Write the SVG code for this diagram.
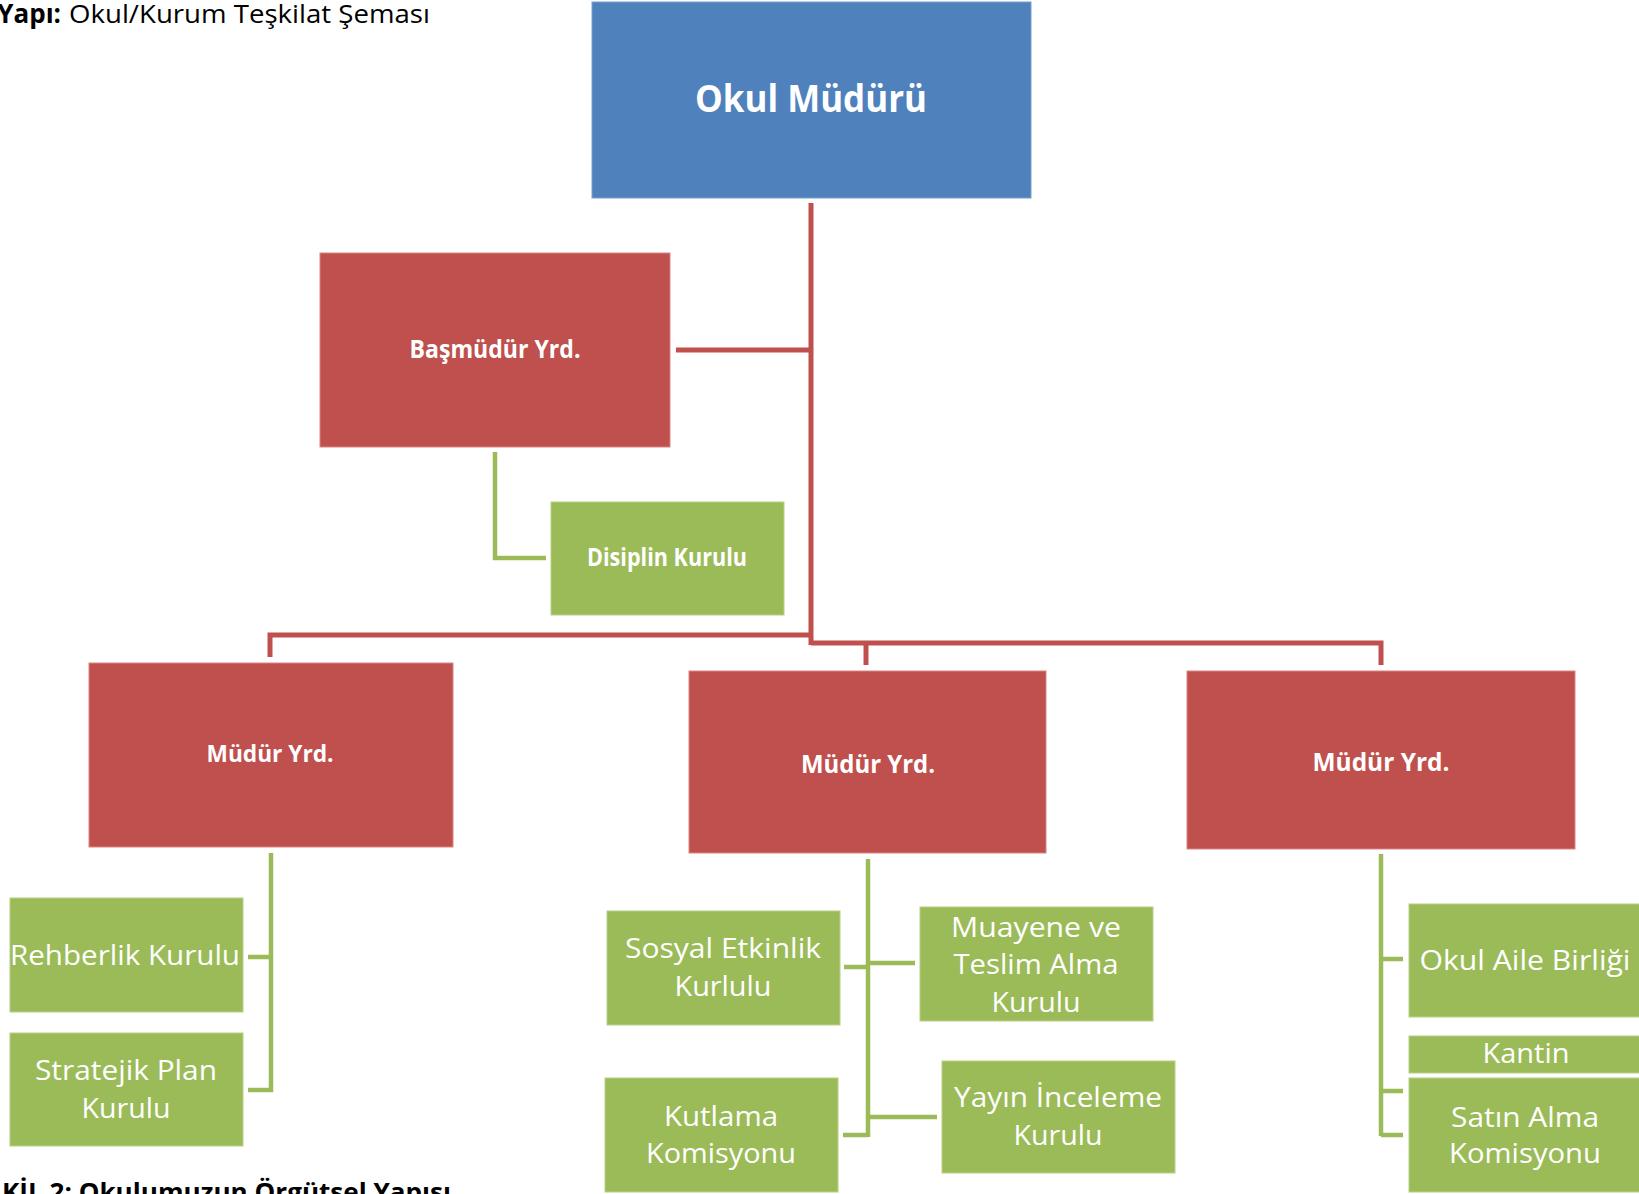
<svg xmlns="http://www.w3.org/2000/svg" width="1639" height="1194" viewBox="0 0 1639 1194">
<style>
text{font-family:"Open Sans","Noto Sans",sans-serif;}
.blue{fill:#4F81BD;stroke:#7A9FCC;stroke-width:1;}
.red{fill:#C0504D;stroke:#D98583;stroke-width:1;}
.green{fill:#9BBB59;stroke:#B8D084;stroke-width:1;}
.lbl{fill:#FFFFFF;text-anchor:middle;}
.b{font-weight:bold;}
.reg{font-size:28px;}
.rl{fill:none;stroke:#C0504D;stroke-width:5;stroke-linejoin:miter;}
.gl{fill:none;stroke:#9BBB59;stroke-width:4.5;stroke-linejoin:miter;}
.cap{fill:#000000;}
</style>
<rect x="0" y="0" width="1639" height="1194" fill="#FFFFFF"/>
<g id="title">
<text class="cap b" x="61" y="23" font-size="26" text-anchor="end">Yapı:</text>
<text class="cap" x="69" y="23" font-size="25" textLength="361" lengthAdjust="spacingAndGlyphs">Okul/Kurum Teşkilat Şeması</text>
</g>
<g id="caption">
<text class="cap b" x="2" y="1201" font-size="25" textLength="449" lengthAdjust="spacingAndGlyphs">KİL 2: Okulumuzun Örgütsel Yapısı</text>
</g>
<g id="connectors">
<path class="rl" d="M811,203 V645"/>
<path class="rl" d="M676,350 H811"/>
<path class="rl" d="M270,657 V635 H811"/>
<path class="rl" d="M811,643 H1381 V665"/>
<path class="rl" d="M866,643 V665"/>
<path class="gl" d="M495,452 V558 H546"/>
<path class="gl" d="M271,853 V1090 H248"/>
<path class="gl" d="M248,957 H271"/>
<path class="gl" d="M868,859 V1137"/>
<path class="gl" d="M844,967 H868"/>
<path class="gl" d="M868,963 H915"/>
<path class="gl" d="M843,1135 H868"/>
<path class="gl" d="M868,1117 H937"/>
<path class="gl" d="M1381,854 V1136"/>
<path class="gl" d="M1381,959 H1403"/>
<path class="gl" d="M1381,1091 H1403"/>
<path class="gl" d="M1381,1135 H1403"/>
</g>
<g id="okul-muduru">
<rect class="blue" x="592" y="2" width="439" height="196"/>
<text class="lbl b" x="811" y="112" font-size="37" textLength="232" lengthAdjust="spacingAndGlyphs">Okul Müdürü</text>
</g>
<g id="basmudur-yrd">
<rect class="red" x="320" y="253" width="350" height="194"/>
<text class="lbl b" x="495" y="358" font-size="25" textLength="171" lengthAdjust="spacingAndGlyphs">Başmüdür Yrd.</text>
</g>
<g id="disiplin-kurulu">
<rect class="green" x="551" y="502" width="233" height="113"/>
<text class="lbl b" x="667" y="566" font-size="25" textLength="160" lengthAdjust="spacingAndGlyphs">Disiplin Kurulu</text>
</g>
<g id="mudur-yrd-1">
<rect class="red" x="89" y="663" width="364" height="184"/>
<text class="lbl b" x="270" y="762" font-size="24" textLength="127" lengthAdjust="spacingAndGlyphs">Müdür Yrd.</text>
</g>
<g id="mudur-yrd-2">
<rect class="red" x="689" y="671" width="357" height="182"/>
<text class="lbl b" x="868" y="773" font-size="25" textLength="134" lengthAdjust="spacingAndGlyphs">Müdür Yrd.</text>
</g>
<g id="mudur-yrd-3">
<rect class="red" x="1187" y="671" width="388" height="178"/>
<text class="lbl b" x="1381" y="771" font-size="25" textLength="137" lengthAdjust="spacingAndGlyphs">Müdür Yrd.</text>
</g>
<g id="rehberlik-kurulu">
<rect class="green" x="10" y="898" width="233" height="114"/>
<text class="lbl reg" x="125" y="965" textLength="230" lengthAdjust="spacingAndGlyphs">Rehberlik Kurulu</text>
</g>
<g id="stratejik-plan-kurulu">
<rect class="green" x="10" y="1033" width="233" height="113"/>
<text class="lbl reg" x="126" y="1080" textLength="182" lengthAdjust="spacingAndGlyphs">Stratejik Plan</text>
<text class="lbl reg" x="126" y="1118" textLength="89" lengthAdjust="spacingAndGlyphs">Kurulu</text>
</g>
<g id="sosyal-etkinlik">
<rect class="green" x="607" y="911" width="233" height="114"/>
<text class="lbl reg" x="723" y="958" textLength="196" lengthAdjust="spacingAndGlyphs">Sosyal Etkinlik</text>
<text class="lbl reg" x="723" y="996" textLength="97" lengthAdjust="spacingAndGlyphs">Kurlulu</text>
</g>
<g id="muayene-teslim">
<rect class="green" x="920" y="907" width="233" height="114"/>
<text class="lbl reg" x="1036" y="937" textLength="170" lengthAdjust="spacingAndGlyphs">Muayene ve</text>
<text class="lbl reg" x="1036" y="974" textLength="165" lengthAdjust="spacingAndGlyphs">Teslim Alma</text>
<text class="lbl reg" x="1036" y="1012" textLength="89" lengthAdjust="spacingAndGlyphs">Kurulu</text>
</g>
<g id="kutlama-komisyonu">
<rect class="green" x="605" y="1078" width="233" height="114"/>
<text class="lbl reg" x="721" y="1126" textLength="114" lengthAdjust="spacingAndGlyphs">Kutlama</text>
<text class="lbl reg" x="721" y="1163" textLength="150" lengthAdjust="spacingAndGlyphs">Komisyonu</text>
</g>
<g id="yayin-inceleme">
<rect class="green" x="942" y="1061" width="233" height="112"/>
<text class="lbl reg" x="1058" y="1107" textLength="208" lengthAdjust="spacingAndGlyphs">Yayın İnceleme</text>
<text class="lbl reg" x="1058" y="1145" textLength="89" lengthAdjust="spacingAndGlyphs">Kurulu</text>
</g>
<g id="okul-aile-birligi">
<rect class="green" x="1409" y="904" width="233" height="113"/>
<text class="lbl reg" x="1525" y="970" textLength="211" lengthAdjust="spacingAndGlyphs">Okul Aile Birliği</text>
</g>
<g id="kantin">
<rect class="green" x="1409" y="1036" width="233" height="37"/>
<text class="lbl reg" x="1526" y="1063" textLength="87" lengthAdjust="spacingAndGlyphs">Kantin</text>
</g>
<g id="satin-alma">
<rect class="green" x="1409" y="1078" width="233" height="114"/>
<text class="lbl reg" x="1525" y="1127" textLength="148" lengthAdjust="spacingAndGlyphs">Satın Alma</text>
<text class="lbl reg" x="1525" y="1163" textLength="152" lengthAdjust="spacingAndGlyphs">Komisyonu</text>
</g>
</svg>
